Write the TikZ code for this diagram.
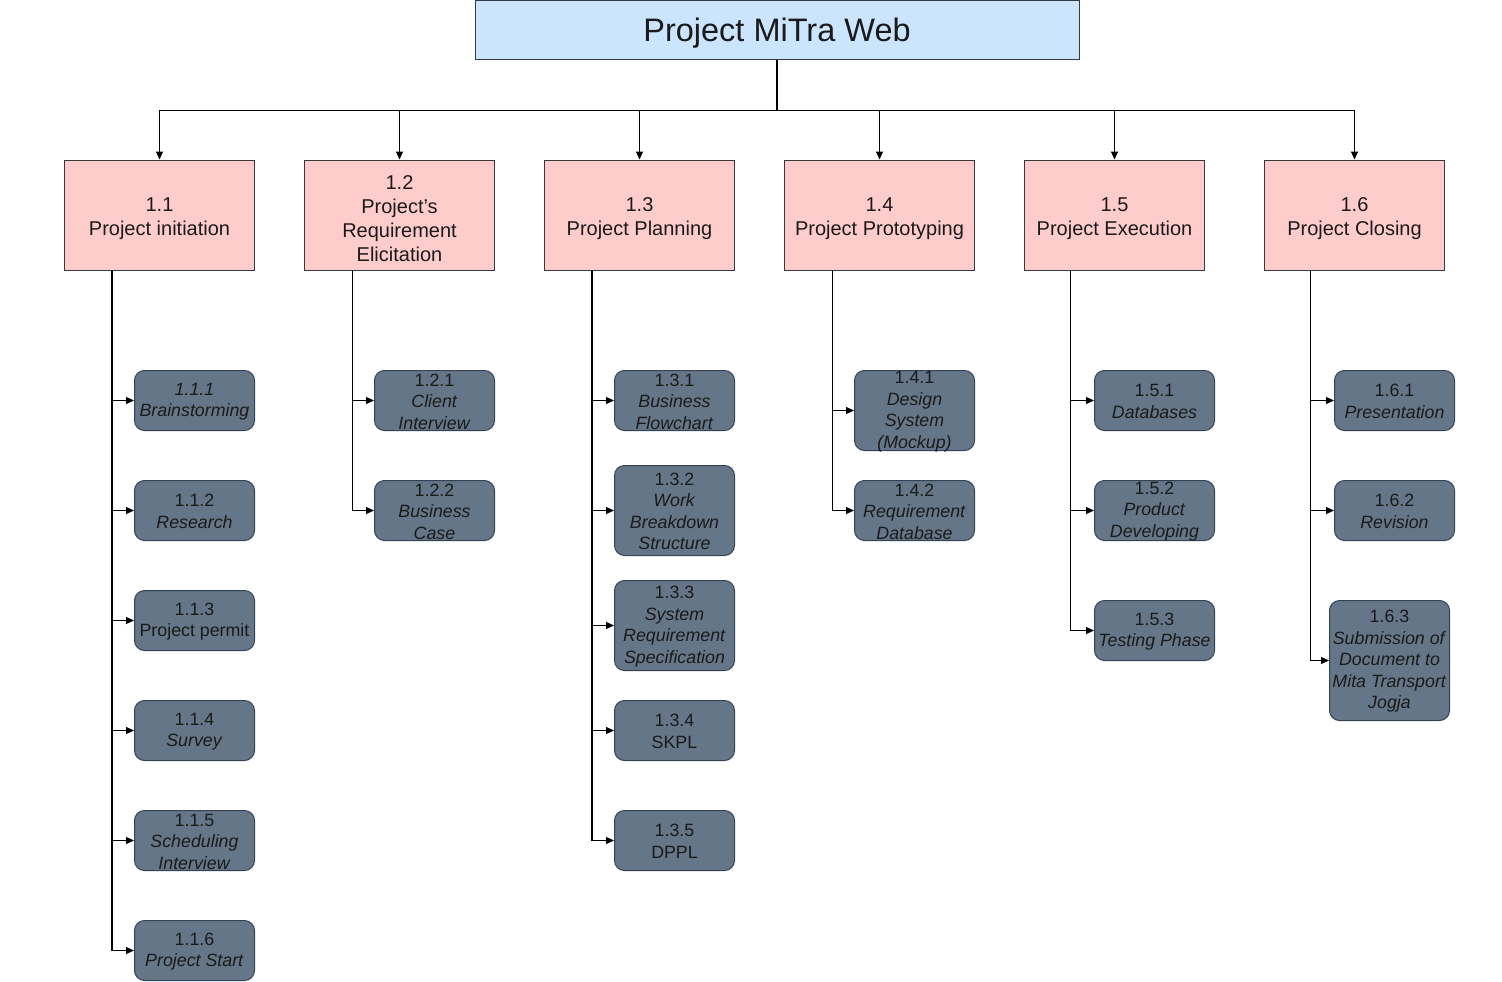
\documentclass[tikz,border=0pt]{standalone}
\usepackage{fontspec}
\setmainfont{Liberation Sans}
\usetikzlibrary{arrows.meta}
\definecolor{topfill}{HTML}{CCE5FF}
\definecolor{boxline}{HTML}{36393D}
\definecolor{pinkfill}{HTML}{FFCCCC}
\definecolor{slatefill}{HTML}{647687}
\definecolor{slateline}{HTML}{314354}
\definecolor{txt}{HTML}{1A1A1A}
\tikzset{
  topbox/.style={draw=boxline, fill=topfill, line width=1pt, minimum width=604, minimum height=59, inner sep=0pt},
  toptext/.style={inner sep=0pt, text=txt, font=\fontsize{32.5}{39}\selectfont, yshift=-3},
  phasebox/.style={draw=boxline, fill=pinkfill, line width=1pt, minimum height=110, inner sep=0pt},
  phasetext/.style={inner sep=0pt, align=center, text=txt, font=\fontsize{20}{24}\selectfont, yshift=-4},
  taskbox/.style={draw=slateline, fill=slatefill, line width=1pt, rounded corners=10pt, minimum width=120, minimum height=60, inner sep=0pt},
  tasktext/.style={inner sep=0pt, align=center, text=txt, font=\fontsize{17.8}{21.5}\selectfont, yshift=-1},
  link/.style={line width=1.2pt, draw=black},
  arr/.style={line width=1pt, draw=black, -{Triangle[length=8pt,width=7pt]}},
}
\begin{document}
\begin{tikzpicture}[x=1pt,y=-1pt]
\useasboundingbox (0,0) rectangle (1502,982);
% root
\node[topbox, label={[toptext]center:Project MiTra Web}] (root) at (777,30.5) {};
\coordinate (bus) at (777,110);
% phases
\node[phasebox, minimum width=190, label={[phasetext]center:{1.1\\Project initiation}}] (p1) at (159.5,215) {};
\node[phasebox, minimum width=190, label={[phasetext]center:{1.2\\Project’s\\Requirement\\Elicitation}}] (p2) at (399.5,215) {};
\node[phasebox, minimum width=190, label={[phasetext]center:{1.3\\Project Planning}}] (p3) at (639.5,215) {};
\node[phasebox, minimum width=190, label={[phasetext]center:{1.4\\Project Prototyping}}] (p4) at (879.5,215) {};
\node[phasebox, minimum width=180, label={[phasetext]center:{1.5\\Project Execution}}] (p5) at (1114.5,215) {};
\node[phasebox, minimum width=180, label={[phasetext]center:{1.6\\Project Closing}}] (p6) at (1354.5,215) {};
\draw[link, line width=1.6pt] (root.south) -- (bus);
\foreach \p in {p1,p2,p3,p4,p5,p6} \draw[arr] (bus) -| (\p.north);
% stems
\coordinate (s1) at (112,270);
\coordinate (s2) at (352,270);
\coordinate (s3) at (592,270);
\coordinate (s4) at (832,270);
\coordinate (s5) at (1070,270);
\coordinate (s6) at (1310,270);
% 1.1 tasks
\node[taskbox, label={[tasktext]center:{\textit{1.1.1}\\\textit{Brainstorming}}}] (t111) at (194.5,400.5) {};
\node[taskbox, label={[tasktext]center:{1.1.2\\\textit{Research}}}] (t112) at (194.5,510.5) {};
\node[taskbox, label={[tasktext]center:{1.1.3\\Project permit}}] (t113) at (194.5,620.5) {};
\node[taskbox, label={[tasktext]center:{1.1.4\\\textit{Survey}}}] (t114) at (194.5,730.5) {};
\node[taskbox, label={[tasktext]center:{1.1.5\\\textit{Scheduling}\\\textit{Interview}}}] (t115) at (194.5,840.5) {};
\node[taskbox, label={[tasktext]center:{1.1.6\\\textit{Project Start}}}] (t116) at (194.5,950.5) {};
\foreach \t in {t111,t112,t113,t114,t115,t116} \draw[arr] (s1) |- (\t.west);
\draw[link] (s1) -- (s1 |- t116.west);
% 1.2 tasks
\node[taskbox, label={[tasktext]center:{1.2.1\\\textit{Client}\\\textit{Interview}}}] (t121) at (434.5,400.5) {};
\node[taskbox, label={[tasktext]center:{1.2.2\\\textit{Business}\\\textit{Case}}}] (t122) at (434.5,510.5) {};
\foreach \t in {t121,t122} \draw[arr] (s2) |- (\t.west);
% 1.3 tasks
\node[taskbox, label={[tasktext]center:{1.3.1\\\textit{Business}\\\textit{Flowchart}}}] (t131) at (674.5,400.5) {};
\node[taskbox, minimum height=90, label={[tasktext]center:{1.3.2\\\textit{Work}\\\textit{Breakdown}\\\textit{Structure}}}] (t132) at (674.5,510.5) {};
\node[taskbox, minimum height=90, label={[tasktext]center:{1.3.3\\\textit{System}\\\textit{Requirement}\\\textit{Specification}}}] (t133) at (674.5,625.5) {};
\node[taskbox, label={[tasktext]center:{1.3.4\\SKPL}}] (t134) at (674.5,730.5) {};
\node[taskbox, label={[tasktext]center:{1.3.5\\DPPL}}] (t135) at (674.5,840.5) {};
\foreach \t in {t131,t132,t133,t134,t135} \draw[arr] (s3) |- (\t.west);
\draw[link] (s3) -- (s3 |- t135.west);
% 1.4 tasks
\node[taskbox, minimum height=80, label={[tasktext]center:{1.4.1\\\textit{Design}\\\textit{System}\\\textit{(Mockup)}}}] (t141) at (914.5,410.5) {};
\node[taskbox, label={[tasktext]center:{1.4.2\\\textit{Requirement}\\\textit{Database}}}] (t142) at (914.5,510.5) {};
\foreach \t in {t141,t142} \draw[arr] (s4) |- (\t.west);
% 1.5 tasks
\node[taskbox, label={[tasktext]center:{1.5.1\\\textit{Databases}}}] (t151) at (1154.5,400.5) {};
\node[taskbox, label={[tasktext]center:{1.5.2\\\textit{Product}\\\textit{Developing}}}] (t152) at (1154.5,510.5) {};
\node[taskbox, label={[tasktext]center:{1.5.3\\\textit{Testing Phase}}}] (t153) at (1154.5,630.5) {};
\foreach \t in {t151,t152,t153} \draw[arr] (s5) |- (\t.west);
% 1.6 tasks
\node[taskbox, label={[tasktext]center:{1.6.1\\\textit{Presentation}}}] (t161) at (1394.5,400.5) {};
\node[taskbox, label={[tasktext]center:{1.6.2\\\textit{Revision}}}] (t162) at (1394.5,510.5) {};
\node[taskbox, minimum height=120, label={[tasktext]center:{1.6.3\\\textit{Submission of}\\\textit{Document to}\\\textit{Mita Transport}\\\textit{Jogja}}}] (t163) at (1389.5,660.5) {};
\foreach \t in {t161,t162,t163} \draw[arr] (s6) |- (\t.west);
\end{tikzpicture}
\end{document}
